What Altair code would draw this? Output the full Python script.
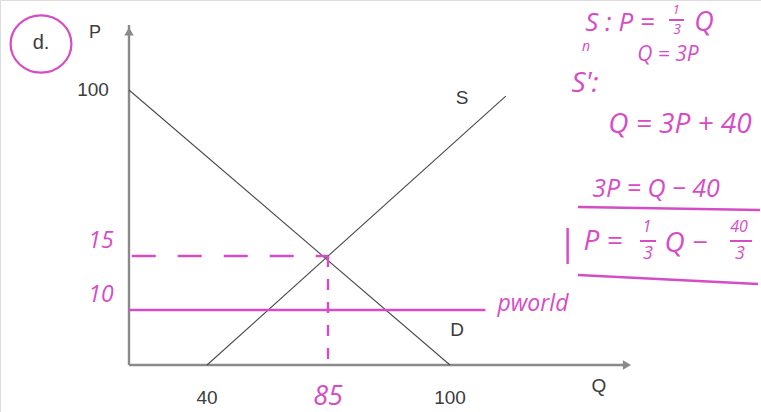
import altair as alt
import pandas as pd

# --- values -------------------------------------------------------------
# Demand D: P = 100 - Q
demand_q = [0, 100]
demand_p = [100, 0]
# Supply S': Q = 3P + 40 (line drawn from Q = 40 upward)
supply_q = [40, 106.3]
supply_p = [0, 96.9]
# Equilibrium and world price
eq_q = 85
eq_p = 15
world_p = 10
world_q_end = 104
# Axis tick labels
q_ticks = [40, 100]
p_ticks = [100]

# The sketch is not to scale, so the axes use piecewise-linear scales
q_domain = [0, 40, 85, 100, 120]
q_range = [129, 207, 328, 450, 627]
p_domain = [0, 10, 15, 100, 120]
p_range = [365, 310, 256, 90, 25]

INK = "#3c3c3c"
PEN = "#d64cc6"
HAND = "Open Sans"
PRINT = "Liberation Sans"

xs = alt.Scale(domain=q_domain, range=q_range)
ys = alt.Scale(domain=p_domain, range=p_range)


def X(field="Q"):
    return alt.X(f"{field}:Q", scale=xs, axis=None)


def Y(field="P"):
    return alt.Y(f"{field}:Q", scale=ys, axis=None)


# --- axes -----------------------------------------------------------------
axes_df = pd.DataFrame({
    "Q": [0, 0, 0, 120], "P": [0, 120, 0, 0], "axis": ["P", "P", "Q", "Q"]
})
axes = alt.Chart(axes_df).mark_line(color="#8a8a8a", strokeWidth=2.4).encode(
    x=X(), y=Y(), detail="axis:N"
)
arrows_df = pd.DataFrame({"Q": [0, 120], "P": [118, 0], "shape": ["triangle-up", "triangle-right"]})
arrows = alt.Chart(arrows_df).mark_point(filled=True, color="#8a8a8a", size=90, opacity=1).encode(
    x=X(), y=Y(), shape=alt.Shape("shape:N", scale=None)
)

# --- curves ---------------------------------------------------------------
demand = alt.Chart(pd.DataFrame({"Q": demand_q, "P": demand_p})).mark_line(
    color="#4a4a4a", strokeWidth=1.1).encode(x=X(), y=Y())
supply = alt.Chart(pd.DataFrame({"Q": supply_q, "P": supply_p})).mark_line(
    color="#4a4a4a", strokeWidth=1.1).encode(x=X(), y=Y())

world = alt.Chart(pd.DataFrame({"Q": [0, world_q_end], "P": [world_p, world_p]})).mark_line(
    color=PEN, strokeWidth=2.4).encode(x=X(), y=Y())

eq_h = alt.Chart(pd.DataFrame({"Q": [1.4, eq_q], "P": [eq_p, eq_p]})).mark_line(
    color=PEN, strokeWidth=2.4, strokeDash=[24, 22]).encode(x=X(), y=Y())
eq_v = alt.Chart(pd.DataFrame({"Q": [eq_q, eq_q], "P": [eq_p, 0]})).mark_line(
    color=PEN, strokeWidth=2.4, strokeDash=[11, 12]).encode(x=X(), y=Y())

# --- tick labels ----------------------------------------------------------
q_lab = alt.Chart(pd.DataFrame({"Q": q_ticks})).mark_text(
    font=PRINT, fontSize=19, color=INK, baseline="middle").encode(
    x=X(), y=alt.value(398), text="Q:Q")
p_lab = alt.Chart(pd.DataFrame({"P": p_ticks})).mark_text(
    font=PRINT, fontSize=19, color=INK, align="center", baseline="middle").encode(
    y=Y(), x=alt.value(93), text="P:Q")
q_eq_lab = alt.Chart(pd.DataFrame({"Q": [eq_q]})).mark_text(
    font=HAND, fontStyle="italic", fontSize=27, color=PEN, baseline="middle").encode(
    x=X(), y=alt.value(397), text="Q:Q")
p_eq_lab = alt.Chart(pd.DataFrame({"P": [eq_p, world_p]})).mark_text(
    font=HAND, fontStyle="italic", fontSize=23, color=PEN, baseline="middle", dy=-15).encode(
    y=Y(), x=alt.value(101), text="P:Q")

# --- printed and handwritten notes (pixel placement) ----------------------
notes = pd.DataFrame([
    ("d.", 41, 43, 20, INK, PRINT, "normal"),
    ("P", 95, 33, 18, INK, PRINT, "normal"),
    ("S", 462, 98, 19, INK, PRINT, "normal"),
    ("D", 457, 330, 19, INK, PRINT, "normal"),
    ("Q", 599, 386, 19, INK, PRINT, "normal"),
    ("pworld", 533, 304, 23, PEN, HAND, "italic"),
    ("S : P =", 620, 23, 26, PEN, HAND, "italic"),
    ("1", 676, 10, 13, PEN, HAND, "italic"),
    ("3", 677, 30, 14, PEN, HAND, "italic"),
    ("Q", 704, 23, 27, PEN, HAND, "italic"),
    ("n", 586, 47, 14, PEN, HAND, "italic"),
    ("Q = 3P", 668, 55, 21, PEN, HAND, "italic"),
    ("S':", 585, 84, 28, PEN, HAND, "italic"),
    ("Q = 3P + 40", 680, 125, 28, PEN, HAND, "italic"),
    ("3P = Q − 40", 656, 189, 25, PEN, HAND, "italic"),
    ("|", 567, 244, 36, PEN, HAND, "italic"),
    ("P =", 603, 242, 28, PEN, HAND, "italic"),
    ("1", 647, 227, 16, PEN, HAND, "italic"),
    ("3", 648, 254, 18, PEN, HAND, "italic"),
    ("Q −", 686, 244, 28, PEN, HAND, "italic"),
    ("40", 739, 227, 16, PEN, HAND, "italic"),
    ("3", 740, 254, 18, PEN, HAND, "italic"),
], columns=["text", "px", "py", "size", "color", "font", "style"])

note_layers = []
for style in ["normal", "italic"]:
    for font in [PRINT, HAND]:
        sub = notes[(notes["style"] == style) & (notes["font"] == font)]
        if len(sub) == 0:
            continue
        note_layers.append(
            alt.Chart(sub).mark_text(font=font, fontStyle=style, baseline="middle").encode(
                x=alt.X("px:Q", scale=None, axis=None),
                y=alt.Y("py:Q", scale=None, axis=None),
                text="text:N",
                size=alt.Size("size:Q", scale=None, legend=None),
                color=alt.Color("color:N", scale=None, legend=None),
            )
        )

# Pen strokes: fraction bars, underlines and the circle round "d."
strokes = pd.DataFrame({
    "px": [669, 684, 640, 656, 730, 752, 578, 760, 578, 758],
    "py": [20, 20, 241, 241, 241, 241, 207, 210, 275, 284],
    "seg": ["a", "a", "b", "b", "c", "c", "d", "d", "e", "e"],
    "w": [2, 2, 2, 2, 2, 2, 2.6, 2.6, 2.6, 2.6],
})
pen = alt.Chart(strokes).mark_line(color=PEN).encode(
    x=alt.X("px:Q", scale=None, axis=None),
    y=alt.Y("py:Q", scale=None, axis=None),
    detail="seg:N",
    strokeWidth=alt.StrokeWidth("w:Q", scale=None, legend=None),
)
ring = alt.Chart(pd.DataFrame({"px": [41], "py": [44]})).mark_point(
    shape="M-1,0A1,0.94,0,1,0,1,0A1,0.94,0,1,0,-1,0Z",
    size=3700, filled=False, color=PEN, strokeWidth=2.2, opacity=1).encode(
    x=alt.X("px:Q", scale=None, axis=None),
    y=alt.Y("py:Q", scale=None, axis=None),
)

data_layer = alt.layer(axes, arrows, demand, supply, world, eq_h, eq_v,
                       q_lab, p_lab, q_eq_lab, p_eq_lab)
note_layer = alt.layer(pen, ring, *note_layers)

chart = alt.layer(data_layer, note_layer).resolve_scale(
    x="independent", y="independent"
).properties(
    width=761, height=412, padding=0, autosize=alt.AutoSizeParams(type="none")
).configure_view(stroke=None).configure(background="white")

chart.save("out.html", embed_options={"renderer": "svg", "actions": False})
